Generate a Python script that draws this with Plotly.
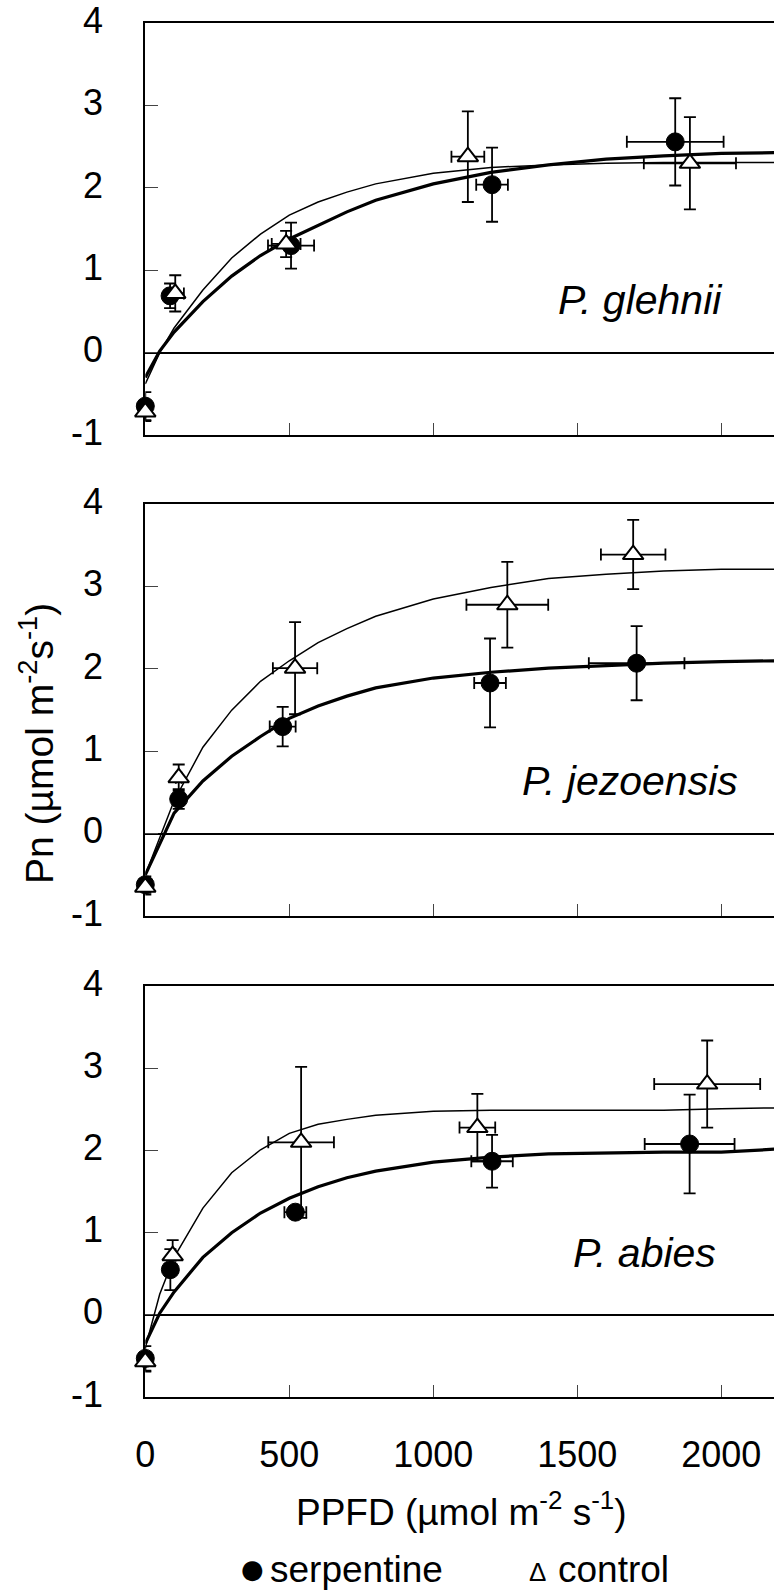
import plotly.graph_objects as go

# ---------------- data ----------------
curve_x = [0, 50, 100, 200, 300, 400, 500, 600, 700, 800, 1000, 1200, 1400, 1600, 1800, 2000, 2200]

glehnii_serp_curve = [-0.30, 0.02, 0.25, 0.62, 0.93, 1.18, 1.38, 1.55, 1.71, 1.85, 2.05, 2.19, 2.28, 2.35, 2.39, 2.42, 2.43]
glehnii_ctrl_curve = [-0.38, 0.00, 0.30, 0.76, 1.15, 1.44, 1.67, 1.83, 1.95, 2.05, 2.18, 2.25, 2.28, 2.30, 2.31, 2.31, 2.31]
jezo_serp_curve = [-0.50, -0.12, 0.25, 0.64, 0.94, 1.18, 1.40, 1.55, 1.67, 1.77, 1.89, 1.96, 2.01, 2.04, 2.07, 2.09, 2.10]
jezo_ctrl_curve = [-0.50, -0.05, 0.40, 1.05, 1.50, 1.85, 2.10, 2.32, 2.49, 2.64, 2.85, 2.99, 3.10, 3.15, 3.19, 3.21, 3.21]
abies_serp_curve = [-0.35, 0.02, 0.28, 0.70, 1.00, 1.24, 1.42, 1.56, 1.67, 1.75, 1.86, 1.92, 1.96, 1.97, 1.98, 1.98, 2.02]
abies_ctrl_curve = [-0.40, 0.25, 0.70, 1.30, 1.73, 2.01, 2.21, 2.32, 2.38, 2.43, 2.48, 2.49, 2.49, 2.49, 2.49, 2.51, 2.52]

glehnii_serp_x = [0, 86, 506, 1204, 1840]
glehnii_serp_y = [-0.65, 0.69, 1.30, 2.04, 2.56]
glehnii_serp_yerr = [0.17, 0.15, 0.28, 0.45, 0.53]
glehnii_serp_xerr = [0, 20, 80, 55, 168]
glehnii_ctrl_x = [0, 104, 489, 1120, 1891]
glehnii_ctrl_y = [-0.72, 0.72, 1.32, 2.38, 2.30]
glehnii_ctrl_yerr = [0.11, 0.22, 0.16, 0.55, 0.56]
glehnii_ctrl_xerr = [0, 30, 50, 57, 160]

jezo_serp_x = [0, 116, 477, 1197, 1706]
jezo_serp_y = [-0.62, 0.42, 1.30, 1.83, 2.07]
jezo_serp_yerr = [0.10, 0.12, 0.24, 0.54, 0.45]
jezo_serp_xerr = [0, 15, 45, 55, 166]
jezo_ctrl_x = [0, 116, 520, 1257, 1694]
jezo_ctrl_y = [-0.65, 0.68, 2.01, 2.78, 3.39]
jezo_ctrl_yerr = [0.09, 0.16, 0.56, 0.52, 0.42]
jezo_ctrl_xerr = [0, 10, 77, 142, 112]

abies_serp_x = [0, 87, 521, 1204, 1890]
abies_serp_y = [-0.53, 0.55, 1.25, 1.87, 2.08]
abies_serp_yerr = [0.15, 0.25, 0.05, 0.32, 0.60]
abies_serp_xerr = [0, 10, 38, 72, 156]
abies_ctrl_x = [0, 95, 541, 1153, 1951]
abies_ctrl_y = [-0.57, 0.72, 2.10, 2.28, 2.81]
abies_ctrl_yerr = [0.12, 0.19, 0.92, 0.41, 0.53]
abies_ctrl_xerr = [0, 10, 114, 62, 184]

species = ["P. glehnii", "P. jezoensis", "P. abies"]
y_ticks = [-1, 0, 1, 2, 3, 4]
x_ticks = [0, 500, 1000, 1500, 2000]
legend_labels = ["serpentine", "control"]

# ---------------- figure ----------------
W, H = 774, 1592
FONT = "Arial, 'Liberation Sans', sans-serif"
fig = go.Figure()

panels = [
    (glehnii_serp_curve, glehnii_ctrl_curve,
     (glehnii_serp_x, glehnii_serp_y, glehnii_serp_xerr, glehnii_serp_yerr),
     (glehnii_ctrl_x, glehnii_ctrl_y, glehnii_ctrl_xerr, glehnii_ctrl_yerr)),
    (jezo_serp_curve, jezo_ctrl_curve,
     (jezo_serp_x, jezo_serp_y, jezo_serp_xerr, jezo_serp_yerr),
     (jezo_ctrl_x, jezo_ctrl_y, jezo_ctrl_xerr, jezo_ctrl_yerr)),
    (abies_serp_curve, abies_ctrl_curve,
     (abies_serp_x, abies_serp_y, abies_serp_xerr, abies_serp_yerr),
     (abies_ctrl_x, abies_ctrl_y, abies_ctrl_xerr, abies_ctrl_yerr)),
]

# pixel layout of the panels (top, bottom)
panel_px = [(23.3, 435.0), (504.3, 916.0), (986.3, 1397.0)]
left_px = 145.3

for i, (sc, cc, sp, cp) in enumerate(panels):
    xa = "x" if i == 0 else f"x{i+1}"
    ya = "y" if i == 0 else f"y{i+1}"
    fig.add_trace(go.Scatter(x=curve_x, y=cc, mode="lines", xaxis=xa, yaxis=ya,
                             line=dict(color="black", width=1.5), showlegend=False,
                             hoverinfo="skip"))
    fig.add_trace(go.Scatter(x=curve_x, y=sc, mode="lines", xaxis=xa, yaxis=ya,
                             line=dict(color="black", width=3.2), showlegend=False,
                             hoverinfo="skip"))
    fig.add_trace(go.Scatter(
        x=sp[0], y=sp[1], mode="markers", xaxis=xa, yaxis=ya, cliponaxis=False,
        marker=dict(symbol="circle", size=18, color="black", line=dict(color="black", width=1)),
        error_x=dict(type="data", array=sp[2], color="black", thickness=1.8, width=6),
        error_y=dict(type="data", array=sp[3], color="black", thickness=1.8, width=6),
        showlegend=False, name=legend_labels[0]))
    fig.add_trace(go.Scatter(
        x=cp[0], y=cp[1], mode="markers", xaxis=xa, yaxis=ya, cliponaxis=False,
        marker=dict(symbol="triangle-up", size=18, color="white", line=dict(color="black", width=2)),
        error_x=dict(type="data", array=cp[2], color="black", thickness=1.8, width=6),
        error_y=dict(type="data", array=cp[3], color="black", thickness=1.8, width=6),
        showlegend=False, name=legend_labels[1]))

x_max = (W - left_px) / 0.288

layout = dict(
    width=W, height=H, margin=dict(l=0, r=0, t=0, b=0, autoexpand=False),
    paper_bgcolor="white", plot_bgcolor="white",
    font=dict(family=FONT, color="black", size=36),
    showlegend=False,
)
for i, (top, bot) in enumerate(panel_px):
    xk = "xaxis" if i == 0 else f"xaxis{i+1}"
    yk = "yaxis" if i == 0 else f"yaxis{i+1}"
    ya = "y" if i == 0 else f"y{i+1}"
    xa = "x" if i == 0 else f"x{i+1}"
    layout[xk] = dict(
        domain=[left_px / W, 1.0], range=[0, x_max], anchor=ya,
        tickvals=x_ticks, ticktext=[str(v) for v in x_ticks],
        showticklabels=(i == 2), ticks="inside", ticklen=12, tickwidth=1, tickcolor="#444",
        showline=True, linecolor="black", linewidth=2, mirror=True,
        showgrid=False, zeroline=False, layer="below traces", automargin=False,
        tickfont=dict(size=36, family=FONT), ticklabelstandoff=25,
        ticklabeloverflow="allow",
    )
    layout[yk] = dict(
        domain=[1 - bot / H, 1 - top / H], range=[-1, 4], anchor=xa,
        tickvals=y_ticks, ticktext=[str(v) for v in y_ticks],
        ticks="inside", ticklen=13, tickwidth=1, tickcolor="#444",
        showline=True, linecolor="black", linewidth=2, mirror=False,
        showgrid=False, zeroline=True, zerolinecolor="black", zerolinewidth=1.5,
        layer="below traces", automargin=False,
        tickfont=dict(size=36, family=FONT), ticklabelstandoff=33, ticklabelshift=-3,
        ticklabeloverflow="allow",
    )
fig.update_layout(**layout)

ann = []
species_pos = [(640, 300), (630, 781), (644, 1253)]
for name, (cx, cy) in zip(species, species_pos):
    ann.append(dict(text=f"<i>{name}</i>", x=cx / W, y=1 - cy / H, xref="paper", yref="paper",
                    showarrow=False, xanchor="center", yanchor="middle",
                    font=dict(size=41, family=FONT)))
ann.append(dict(text="Pn (µmol m<sup>-2</sup>s<sup>-1</sup>)", x=36 / W, y=1 - 744 / H,
                xref="paper", yref="paper", showarrow=False, textangle=-90,
                xanchor="center", yanchor="middle", font=dict(size=39, family=FONT)))
ann.append(dict(text="PPFD (µmol m<sup>-2</sup> s<sup>-1</sup>)", x=462 / W, y=1 - 1509 / H,
                xref="paper", yref="paper", showarrow=False,
                xanchor="center", yanchor="middle", font=dict(size=37, family=FONT)))
ann.append(dict(text="●", x=252 / W, y=1 - 1569 / H, xref="paper", yref="paper",
                showarrow=False, xanchor="center", yanchor="middle",
                font=dict(size=26, family="DejaVu Sans")))
ann.append(dict(text=legend_labels[0], x=268 / W, y=1 - 1569 / H, xref="paper", yref="paper",
                showarrow=False, xanchor="left", yanchor="middle", font=dict(size=37, family=FONT)))
ann.append(dict(text="Δ", x=537 / W, y=1 - 1572 / H, xref="paper", yref="paper",
                showarrow=False, xanchor="center", yanchor="middle", font=dict(size=26, family=FONT)))
ann.append(dict(text=legend_labels[1], x=556 / W, y=1 - 1569 / H, xref="paper", yref="paper",
                showarrow=False, xanchor="left", yanchor="middle", font=dict(size=37, family=FONT)))
fig.update_layout(annotations=ann)

fig.write_html("out.html")
